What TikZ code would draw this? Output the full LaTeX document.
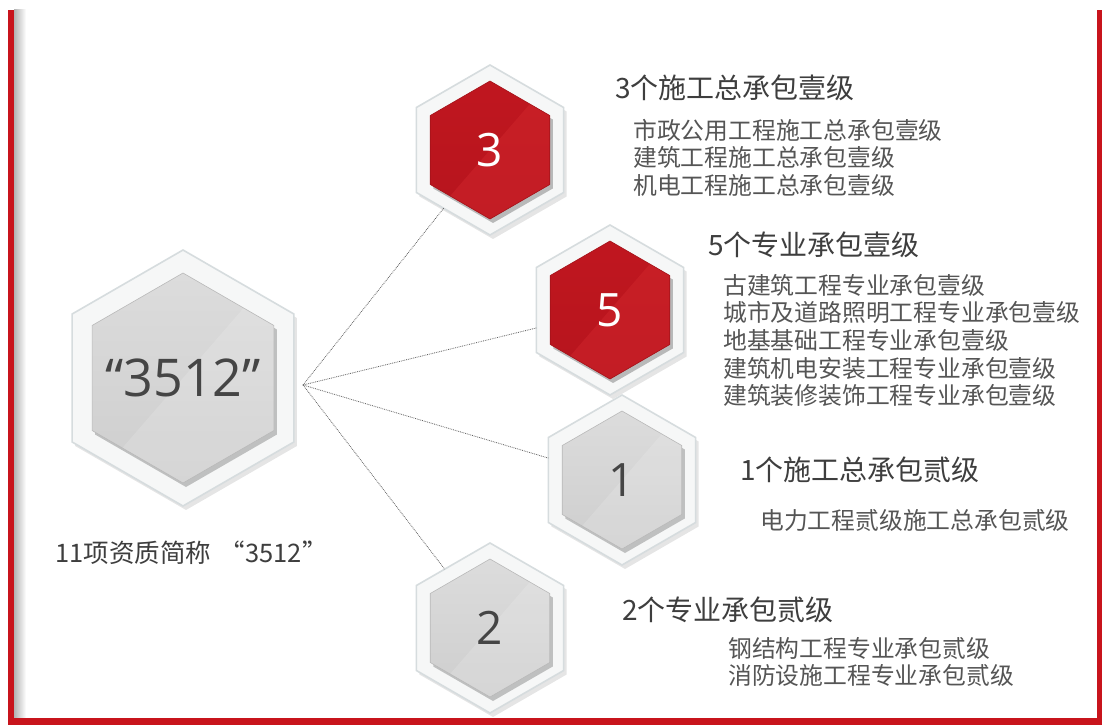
\documentclass[tikz,border=0pt]{standalone}
\usepackage{fontspec}
\setmainfont{Noto Sans CJK SC}
\newfontfamily\numfont{Open Sans}
\usetikzlibrary{shapes.geometric,shadows,calc}
\definecolor{bred}{HTML}{C8141C}
\definecolor{hred}{HTML}{C0161F}
\definecolor{hredl}{HTML}{D0262C}
\definecolor{txt}{HTML}{3E3E3E}
\definecolor{subc}{HTML}{555555}
\definecolor{frm}{HTML}{F6F7F7}
\definecolor{frmd}{HTML}{D6DCDE}
\definecolor{gtop}{HTML}{DCDCDC}
\definecolor{gbot}{HTML}{CECECE}
\definecolor{numc}{HTML}{454545}
\tikzset{
  hexf/.style={regular polygon, regular polygon sides=6, shape border rotate=30, inner sep=0pt, outer sep=0pt},
  frame/.style={hexf, fill=frm, draw=frmd, line width=1.6pt,
    drop shadow={shadow xshift=3pt, shadow yshift=-4pt, opacity=0.10, fill=black}},
  grayhex/.style={hexf, top color=gtop, bottom color=gbot, draw=gbot!90!black, line width=0.6pt,
    drop shadow={shadow xshift=3pt, shadow yshift=-4pt, opacity=0.22, fill=black},
    path picture={\fill[white,opacity=0.15] (path picture bounding box.north east) -- (path picture bounding box.south west) -- (path picture bounding box.south east) -- cycle;},
    text=numc},
  redhex/.style={hexf, top color=hred, bottom color=hred!95!black, draw=hred!85!black, line width=0.6pt,
    drop shadow={shadow xshift=3pt, shadow yshift=-4pt, opacity=0.25, fill=black},
    path picture={\fill[hredl,opacity=0.5] (path picture bounding box.north east) -- (path picture bounding box.south west) -- (path picture bounding box.south east) -- cycle;},
    text=white},
  numtxt/.style={font=\numfont\fontsize{46}{50}\selectfont},
  ttl/.style={anchor=west, inner sep=0pt, text=txt, font=\fontsize{28}{32}\selectfont},
  itm/.style={anchor=west, inner sep=0pt, text=subc, font=\fontsize{23.8}{27}\selectfont},
  capt/.style={anchor=west, inner sep=0pt, text=txt, font=\fontsize{25.5}{29}\selectfont},
  conn/.style={densely dotted, draw=gray!75!black, line width=0.8pt}
}
\begin{document}
\begin{tikzpicture}[x=1pt,y=-1pt]
\useasboundingbox (0,0) rectangle (1102,725);
\fill[white] (0,0) rectangle (1102,725);
% border
\shade[left color=gray!60, right color=white] (14,10) rectangle (26,718);
\fill[bred] (8,10) rectangle (14,725);
\fill[bred] (1097,10) rectangle (1102,725);
\fill[bred] (8,718) rectangle (1102,725);

% hexagons: outer frames
\node[frame, minimum size=256pt] (o0) at (183,378) {};
\node[frame, minimum size=170pt] (o3) at (490,150) {};
\node[frame, minimum size=170pt] (o5) at (610,310) {};
\node[frame, minimum size=170pt] (o1) at (622,480) {};
\node[frame, minimum size=170pt] (o2) at (490,628) {};

% inner hexagons
\node[grayhex, minimum size=210pt] (c0) at (183,378) {};
\node[text=numc, font=\numfont\fontsize{52}{56}\selectfont, inner sep=0pt] (n0) at (c0) {“3512”};
\node[redhex, minimum size=138pt, numtxt] (c3) at (490,150) {3};
\node[redhex, minimum size=138pt, numtxt] (c5) at (610,310) {5};
\node[grayhex, minimum size=138pt, numtxt] (c1) at (622,480) {1};
\node[grayhex, minimum size=138pt, numtxt] (c2) at (490,628) {2};

% connectors
\coordinate (hub) at (303,385);
\draw[conn] (hub) -- (o3);
\draw[conn] (hub) -- (o5);
\draw[conn] (hub) -- (o1);
\draw[conn] (hub) -- (o2);

% texts
\node[capt] (cap) at (55,553) {11项资质简称\hspace{0.35em}“3512”};

\node[ttl] (t3) at (615,88) {3个施工总承包壹级};
\node[itm] (s31) at (633,130) {市政公用工程施工总承包壹级};
\node[itm] (s32) at (633,157) {建筑工程施工总承包壹级};
\node[itm] (s33) at (633,185) {机电工程施工总承包壹级};

\node[ttl] (t5) at (708,245) {5个专业承包壹级};
\node[itm] (s51) at (723,285) {古建筑工程专业承包壹级};
\node[itm] (s52) at (723,312) {城市及道路照明工程专业承包壹级};
\node[itm] (s53) at (723,340) {地基基础工程专业承包壹级};
\node[itm] (s54) at (723,368) {建筑机电安装工程专业承包壹级};
\node[itm] (s55) at (723,395) {建筑装修装饰工程专业承包壹级};

\node[ttl] (t1) at (740,470) {1个施工总承包贰级};
\node[itm] (s11) at (760,520) {电力工程贰级施工总承包贰级};

\node[ttl] (t2) at (622,610) {2个专业承包贰级};
\node[itm] (s21) at (728,648) {钢结构工程专业承包贰级};
\node[itm] (s22) at (728,675) {消防设施工程专业承包贰级};
\end{tikzpicture}
\end{document}
